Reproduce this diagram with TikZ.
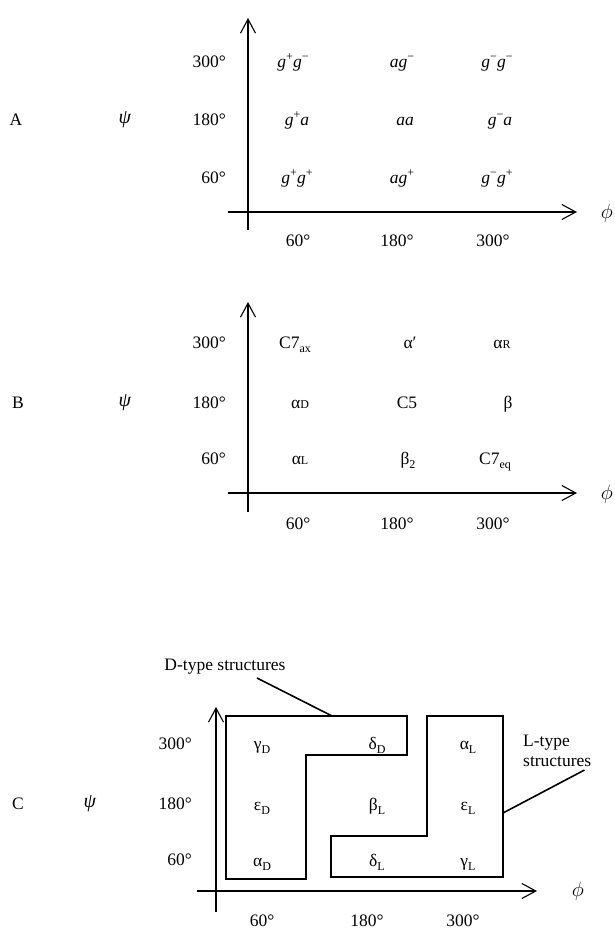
\documentclass[tikz,border=0pt]{standalone}
\usepackage{fontspec}
\setmainfont{Liberation Serif}
\usetikzlibrary{positioning,arrows.meta}
\newcommand\lc[1]{{\fontsize{12}{12}\selectfont #1}}
\newcommand\supr[1]{\raisebox{7pt}{\fontsize{12}{12}\selectfont #1}}
\newcommand\subr[1]{\raisebox{-4pt}{\fontsize{12}{12}\selectfont #1}}

\begin{document}
\begin{tikzpicture}[x=1pt, y=-1pt,
      t/.style={font=\fontsize{17.5}{20}\selectfont, inner sep=0pt, anchor=base},
      deg/.style={t, anchor=base east},
      gr/.style={t, font=\fontsize{20}{22}\selectfont},
      ax/.style={line width=1.1pt, -{Straight Barb[length=14pt,width=15pt]}},
      reg/.style={line width=1.6pt},
      lead/.style={line width=1.6pt}]
      \useasboundingbox (0,0) rectangle (614,931);

      % A: torsion states
      \coordinate (A-yb) at (248,230); \coordinate (A-yt) at (248,18);
      \coordinate (A-xl) at (228,212); \coordinate (A-xr) at (577,212);
      \draw[ax] (A-yb) -- (A-yt);
      \draw[ax] (A-xl) -- (A-xr);
      \node[t] (A) at (16,126) {A};
      \node[gr] (A-psi) at (125,124) {\textit{ψ}};
      \node[gr] (A-phi) at (607,218) {$\phi$};
      \foreach \d/\y in {300/68,180/126,60/183} \node[deg] (A-r\d) at (226,\y) {\d°};
      \foreach \d/\x in {60/298,180/397,300/493} \node[t] (A-c\d) at (\x,246) {\d°};
      \node[t] (gpgm) at (293,68) {\textit{g}\supr{+}\textit{g}\supr{−}};
      \node[t] (agm) at (402,68) {\textit{ag}\supr{−}};
      \node[t] (gmgm) at (497,68) {\textit{g}\supr{−}\textit{g}\supr{−}};
      \node[t] (gpa) at (297,126) {\textit{g}\supr{+}\textit{a}};
      \node[t] (aa) at (405,126) {\textit{aa}};
      \node[t] (gma) at (500,126) {\textit{g}\supr{−}\textit{a}};
      \node[t] (gpgp) at (297,183) {\textit{g}\supr{+}\textit{g}\supr{+}};
      \node[t] (agp) at (402,183) {\textit{ag}\supr{+}};
      \node[t] (gmgp) at (497,183) {\textit{g}\supr{−}\textit{g}\supr{+}};

      % B: conformer names
      \coordinate (B-yb) at (248,512); \coordinate (B-yt) at (248,302);
      \coordinate (B-xl) at (228,493); \coordinate (B-xr) at (577,493);
      \draw[ax] (B-yb) -- (B-yt);
      \draw[ax] (B-xl) -- (B-xr);
      \node[t] (B) at (18,408) {B};
      \node[gr] (B-psi) at (125,406) {\textit{ψ}};
      \node[gr] (B-phi) at (607,499) {$\phi$};
      \foreach \d/\y in {300/348,180/408,60/464} \node[deg] (B-r\d) at (226,\y) {\d°};
      \foreach \d/\x in {60/298,180/397,300/493} \node[t] (B-c\d) at (\x,529) {\d°};
      \node[t] (c7ax) at (295,348) {C7\subr{ax}};
      \node[t] (alp) at (410,348) {α′};
      \node[t] (alR) at (502,348) {α\lc{R}};
      \node[t] (alD) at (300,408) {α\lc{D}};
      \node[t] (c5) at (407,408) {C5};
      \node[t] (bet) at (508,408) {β};
      \node[t] (alL) at (300,464) {α\lc{L}};
      \node[t] (bet2) at (408,464) {β\subr{2}};
      \node[t] (c7eq) at (495,464) {C7\subr{eq}};

      % C: D- and L-type regions
      \coordinate (C-yb) at (216,912); \coordinate (C-yt) at (216,707);
      \coordinate (C-xl) at (197,891); \coordinate (C-xr) at (537,891);
      \draw[ax] (C-yb) -- (C-yt);
      \draw[ax] (C-xl) -- (C-xr);
      \node[t] (C) at (18,809) {C};
      \node[gr] (C-psi) at (90,807) {\textit{ψ}};
      \node[gr] (C-phi) at (578,896) {$\phi$};
      \foreach \d/\y in {300/749,180/809,60/865} \node[deg] (C-r\d) at (192,\y) {\d°};
      \foreach \d/\x in {60/262,180/367,300/463} \node[t] (C-c\d) at (\x,926) {\d°};
      \draw[reg] (226,716) -- (407,716) -- (407,755) -- (306,755) -- (306,879) -- (226,879) -- cycle;
      \draw[reg] (427,716) -- (503,716) -- (503,877) -- (331,877) -- (331,836) -- (427,836) -- cycle;
      \node[t] (gaD) at (262,749) {γ\subr{D}};
      \node[t] (deD) at (377,749) {δ\subr{D}};
      \node[t] (alLc) at (468,749) {α\subr{L}};
      \node[t] (epD) at (262,810) {ε\subr{D}};
      \node[t] (beL) at (377,810) {β\subr{L}};
      \node[t] (epL) at (468,810) {ε\subr{L}};
      \node[t] (alDc) at (262,866) {α\subr{D}};
      \node[t] (deL) at (377,866) {δ\subr{L}};
      \node[t] (gaL) at (468,866) {γ\subr{L}};
      \node[t] (dtype) at (225,670) {D-type structures};
      \node[t, anchor=north west, align=left] (ltype) at (523,735) {L-type\\structures};
      \coordinate (d-end) at (332,716);
      \coordinate (l-end) at (503,813);
      \draw[lead] ([xshift=32pt,yshift=-8pt]dtype.base) -- (d-end);
      \draw[lead] ([xshift=-7pt,yshift=-3pt]ltype.south east) -- (l-end);
    \end{tikzpicture}
\end{document}
